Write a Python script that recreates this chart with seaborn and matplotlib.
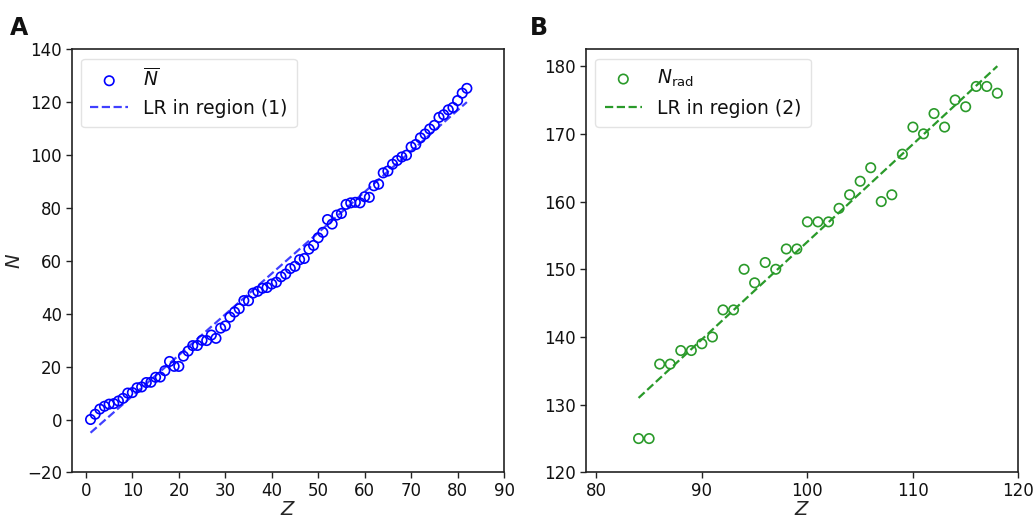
import numpy as np
import pandas as pd
import matplotlib
matplotlib.use("Agg")
import matplotlib.pyplot as plt
import seaborn as sns

# ---------------- data ----------------
z_a = list(range(1, 83))
n_bar = [0.01, 2.00, 3.94, 5.01, 5.81, 6.01, 7.01, 8.00, 10.00, 10.18,
         11.99, 12.31, 13.98, 14.09, 15.97, 16.06, 18.45, 21.95, 20.10, 20.08,
         23.96, 25.87, 27.94, 28.00, 29.94, 29.85, 31.93, 30.69, 34.55, 35.38,
         38.72, 40.63, 41.92, 44.97, 44.90, 47.80, 48.47, 49.62, 49.91, 51.22,
         51.91, 53.95, 55.00, 57.07, 57.91, 60.42, 60.87, 64.41, 65.82, 68.71,
         70.76, 75.60, 73.90, 77.29, 77.91, 81.33, 81.91, 82.12, 81.91, 84.24,
         84.00, 88.36, 88.96, 93.25, 93.93, 96.50, 97.93, 99.26, 99.93, 103.05,
         103.97, 106.49, 107.95, 109.84, 111.21, 114.23, 115.22, 117.08, 117.97, 120.59,
         123.38, 125.20]
lr1_z = [1, 82]
lr1_n = [-5.0, 120.0]

z_b = list(range(84, 119))
n_rad = [125, 125, 136, 136, 138, 138, 139, 140, 144, 144,
         150, 148, 151, 150, 153, 153, 157, 157, 157, 159,
         161, 163, 165, 160, 161, 167, 171, 170, 173, 171,
         175, 174, 177, 177, 176]
lr2_z = [84, 118]
lr2_n = [131.0, 180.0]

df_a = pd.DataFrame({"Z": z_a, "N": n_bar})
df_b = pd.DataFrame({"Z": z_b, "N": n_rad})
df_lr1 = pd.DataFrame({"Z": lr1_z, "N": lr1_n})
df_lr2 = pd.DataFrame({"Z": lr2_z, "N": lr2_n})

# ---------------- style ----------------
sns.set_style("ticks")
plt.rcParams["font.family"] = ["DejaVu Sans"]
plt.rcParams["mathtext.fontset"] = "dejavusans"
plt.rcParams["text.color"] = "#111111"
plt.rcParams["xtick.color"] = "#222222"
plt.rcParams["ytick.color"] = "#222222"
plt.rcParams["xtick.labelcolor"] = "#111111"
plt.rcParams["ytick.labelcolor"] = "#111111"

fig = plt.figure(figsize=(10.35, 5.18), dpi=100)
ax1 = fig.add_axes([0.0693, 0.088, 0.4177, 0.817])
ax2 = fig.add_axes([0.566, 0.088, 0.418, 0.817])

blue = "#0000ff"
green = "#2a9a2a"

# Panel A
sns.scatterplot(data=df_a, x="Z", y="N", ax=ax1, marker="o", s=46,
                facecolors="none", edgecolor=blue, linewidth=1.2,
                label=r"$\overline{N}$")
sns.lineplot(data=df_lr1, x="Z", y="N", ax=ax1, color=blue, alpha=0.75,
             linestyle="--", linewidth=1.6, label="LR in region (1)")
ax1.set_xlim(-3.05, 90)
ax1.set_ylim(-20, 140)
ax1.set_xticks(range(0, 91, 10))
ax1.set_yticks(range(-20, 141, 20))
ax1.set_xlabel(r"$Z$", fontsize=14, labelpad=0)
ax1.set_ylabel(r"$N$", fontsize=14, labelpad=2)

# Panel B
sns.scatterplot(data=df_b, x="Z", y="N", ax=ax2, marker="o", s=46,
                facecolors="none", edgecolor=green, linewidth=1.2,
                label=r"$N_{\mathrm{rad}}$")
sns.lineplot(data=df_lr2, x="Z", y="N", ax=ax2, color=green,
             linestyle="--", linewidth=1.6, label="LR in region (2)")
ax2.set_xlim(79, 120)
ax2.set_ylim(120, 182.5)
ax2.set_xticks(range(80, 121, 10))
ax2.set_yticks(range(120, 181, 10))
ax2.set_xlabel(r"$Z$", fontsize=14, labelpad=0)
ax2.set_ylabel("")

for ax in (ax1, ax2):
    ax.tick_params(labelsize=12, length=4, width=1, pad=3)
    for sp in ax.spines.values():
        sp.set_visible(True)
        sp.set_linewidth(1.2)
        sp.set_color("#222222")
    leg = ax.legend(loc="upper left", fontsize=13.5, frameon=True,
                    borderpad=0.5, handlelength=2.0)
    leg.get_frame().set_edgecolor("#dddddd")

fig.text(0.010, 0.945, "A", fontsize=17, fontweight="bold", va="center")
fig.text(0.512, 0.945, "B", fontsize=17, fontweight="bold", va="center")

fig.savefig("out.png", dpi=100)
